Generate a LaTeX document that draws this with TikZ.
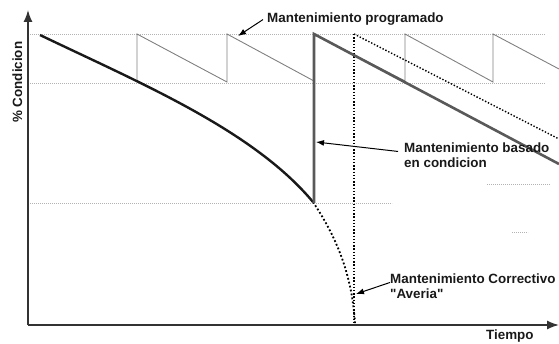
\documentclass[tikz,border=0pt]{standalone}
\usepackage{fontspec}
\setmainfont{Liberation Sans}
\usetikzlibrary{arrows.meta}
\pgfdeclarelayer{edgelayer}
\pgfdeclarelayer{nodelayer}
\pgfsetlayers{edgelayer,main,nodelayer}
\tikzstyle{tag}=[font=\bfseries\fontsize{13.4}{15.5}\selectfont,inner sep=0pt,anchor=base west,align=left,text=black!90]
\tikzstyle{grid}=[draw=black!30,line width=0.6pt,dash pattern=on 0.8pt off 1.2pt]
\tikzstyle{axis}=[draw=black!80,line width=1.5pt,-{Latex[length=12pt,width=9pt]}]
\tikzstyle{pointer}=[draw=black,line width=1pt,-{Latex[length=8pt,width=6pt]}]
\tikzstyle{scheduled}=[draw=black!50,line width=0.9pt]
\tikzstyle{wear}=[draw=black!90,line width=2.4pt]
\tikzstyle{condition}=[draw=black!65,line width=2.6pt]
\tikzstyle{failure}=[draw=black,line width=1.8pt,dash pattern=on 1.8pt off 2.2pt]
\tikzstyle{failureline}=[draw=black,line width=1.4pt,dash pattern=on 1.4pt off 1.8pt]

\begin{document}
\begin{tikzpicture}[x=1pt,y=-1pt]
	\useasboundingbox (0,0) rectangle (559,344);
	\begin{pgfonlayer}{nodelayer}
		\node [style=tag] (prog) at (267,23) {Mantenimiento programado};
		\node [style=tag] (cbm) at (404,168) {Mantenimiento basado\\en condicion};
		\node [style=tag] (corr) at (390,299) {Mantenimiento Correctivo\\\textquotedbl Averia\textquotedbl};
		\node [style=tag] (tiempo) at (486,339) {Tiempo};
		\node [style=tag, rotate=90] (cond) at (22,123) {\% Condicion};
	\end{pgfonlayer}
	\coordinate (o) at (28,325);
	\coordinate (ytop) at (28,10);
	\coordinate (xend) at (559,325);
	\coordinate (progtip) at (238,36);
	\coordinate (cbmtip) at (316,142);
	\coordinate (corrtip) at (356,294);
	\begin{pgfonlayer}{edgelayer}
		% gridlines
		\draw [style=grid] (30,34) -- (545,34);
		\draw [style=grid] (30,83) -- (545,83);
		\draw [style=grid] (30,203) -- (392,203);
		\draw [style=grid] (487,184) -- (550,184);
		\draw [style=grid] (512,232) -- (528,232);
	\end{pgfonlayer}
	% scheduled maintenance
	\draw [style=scheduled] (137,82) -- (137,34) -- (227,82) -- (227,34) -- (314,81) -- (314,34)
		-- (405,81) -- (405,34) -- (493,82) -- (493,34) -- (559,69);
	% run to failure
	\draw [style=failureline] (354,34) -- (354,325);
	\draw [style=failureline] (354,34) -- (559,139);
	\draw [style=failure] (313,202) .. controls (333,232) and (352,270) .. (355,324);
	\draw [style=wear] (40,35) .. controls (140,83) and (253,130) .. (313,202);
	% condition based
	\draw [style=condition] (314,203) -- (314,34) -- (559,164);
	% axes
	\draw [style=axis] (o) -- (ytop);
	\draw [style=axis] (o) -- (xend);
	% pointers
	\draw [style=pointer] (prog.west) ++(-4,0) -- (progtip);
	\draw [style=pointer] (cbm.west) ++(-6,-4) -- (cbmtip);
	\draw [style=pointer] (corr.west) ++(0,-4) -- (corrtip);
\end{tikzpicture}
\end{document}
